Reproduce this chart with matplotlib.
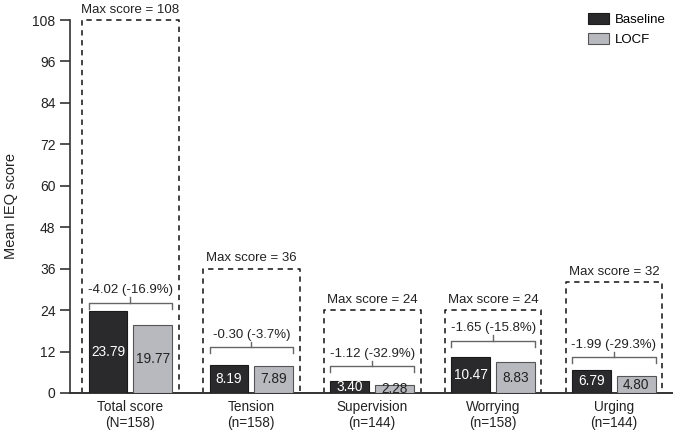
import numpy as np
import matplotlib.pyplot as plt

plt.rcParams['font.family'] = ['Liberation Sans', 'DejaVu Sans']

# data
categories = ['Total score\n(N=158)', 'Tension\n(n=158)', 'Supervision\n(n=144)',
              'Worrying\n(n=158)', 'Urging\n(n=144)']
baseline = [23.79, 8.19, 3.40, 10.47, 6.79]
locf = [19.77, 7.89, 2.28, 8.83, 4.80]
max_scores = [108, 36, 24, 24, 32]
change_labels = ['-4.02 (-16.9%)', '-0.30 (-3.7%)', '-1.12 (-32.9%)',
                 '-1.65 (-15.8%)', '-1.99 (-29.3%)']
yticks = [0, 12, 24, 36, 48, 60, 72, 84, 96, 108]

# layout of brackets (y level)
bracket_y = [26.1, 13.3, 7.8, 15.1, 10.4]

DARK = '#2a2a2c'
GREY = '#b7b9bf'
TXT = '#222222'

fig = plt.figure(figsize=(6.76, 4.33), dpi=100)
ax = fig.add_axes([0.1036, 0.0924, 0.8904, 0.8614])

x = np.arange(len(categories))
w = 0.32
off = 0.185

ax.bar(x - off, baseline, w, color=DARK, edgecolor='#1a1a1a', linewidth=0.8, label='Baseline', zorder=3)
ax.bar(x + off, locf, w, color=GREY, edgecolor='#555555', linewidth=0.8, label='LOCF', zorder=3)

for i in range(len(x)):
    # dashed max score box
    bx = [x[i] - 0.4, x[i] - 0.4, x[i] + 0.4, x[i] + 0.4]
    by = [0, max_scores[i], max_scores[i], 0]
    ax.plot(bx, by, color='#111111', linestyle=(0, (3.5, 3)), linewidth=1.1, zorder=2, clip_on=False)
    ax.text(x[i], max_scores[i] + 1.3, f'Max score = {max_scores[i]}', ha='center', va='bottom',
            fontsize=9.5, color=TXT)

    # bar value labels
    ax.text(x[i] - off, baseline[i] / 2, f'{baseline[i]:.2f}', ha='center', va='center',
            fontsize=9.8, color='white', zorder=4)
    ax.text(x[i] + off, locf[i] / 2, f'{locf[i]:.2f}', ha='center', va='center',
            fontsize=9.8, color=TXT, zorder=4)

    # bracket with change
    yb = bracket_y[i]
    xl = x[i] - off - w / 2
    xr = x[i] + off + w / 2
    ax.plot([xl, xl, xr, xr], [yb - 1.7, yb, yb, yb - 1.7], color='#666666', linewidth=1.0, zorder=3)
    ax.plot([x[i], x[i]], [yb, yb + 1.6], color='#666666', linewidth=1.0, zorder=3)
    ax.text(x[i], yb + 3.6, change_labels[i], ha='center', va='center', fontsize=9.5, color=TXT)

ax.set_xlim(-0.5, 4.48)
ax.set_ylim(0, 108)
ax.set_yticks(yticks)
ax.set_xticks(x)
ax.set_xticklabels(categories, fontsize=9.8, color=TXT, linespacing=1.15)
ax.tick_params(axis='x', length=0, pad=5)
ax.tick_params(axis='y', length=7, width=1.2, labelsize=10, labelcolor=TXT, color='#333333')
ax.set_ylabel('Mean IEQ score', fontsize=10.5, color=TXT, labelpad=10)

for s in ['top', 'right']:
    ax.spines[s].set_visible(False)
ax.spines['left'].set_linewidth(1.2)
ax.spines['bottom'].set_linewidth(1.4)
ax.spines['left'].set_color('#333333')
ax.spines['bottom'].set_color('#333333')

leg = ax.legend(loc='upper right', bbox_to_anchor=(1.01, 1.05), frameon=False, fontsize=9.5,
                handlelength=1.6, handleheight=0.9, handletextpad=0.5, labelspacing=0.5)

fig.savefig('out.png', dpi=100)
